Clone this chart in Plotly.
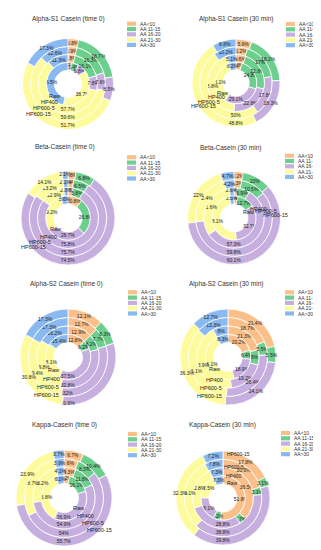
import plotly.graph_objects as go

W, H = 321, 550

categories = ["AA<10", "AA 11-15", "AA 16-20", "AA 21-30", "AA>30"]
ring_names = ["Raw", "HP400", "HP600-5", "HP600-15"]
titles = [
    "Alpha-S1 Casein (time 0)", "Alpha-S1 Casein (30 min)",
    "Beta-Casein (time 0)", "Beta-Casein (30 min)",
    "Alpha-S2 Casein (time 0)", "Alpha-S2 Casein (30 min)",
    "Kappa-Casein (time 0)", "Kappa-Casein (30 min)",
]

# values per ring, inner (Raw) -> outer (HP600-15); order = categories
alpha_s1_t0 = [[2.6, 5.4, 6.8, 38.7, 46.5],
               [3.8, 16.1, 7.8, 57.7, 11.3],
               [3.9, 16.3, 7.6, 59.6, 12.6],
               [3.8, 18.7, 8.5, 51.7, 17.3]]
alpha_s1_30 = [[4.8, 24.8, 29.1, 35.1, 6.2],
               [5.6, 22.8, 22.8, 43.8, 5.1],
               [5.2, 17, 17.8, 50, 10.2],
               [5.9, 18.2, 18.3, 48.8, 8.8]]
beta_t0 = [[10.8, 26.8, 28.7, 29.2, 5.6],
           [2.7, 5.8, 75.8, 12.9, 2.3],
           [2.4, 6.5, 75.7, 13.2, 2.1],
           [2.8, 6.8, 74.5, 14.1, 2.1]]
beta_30 = [[3, 12.7, 32.7, 48.1, 3.5],
           [1.6, 6.9, 57.3, 31.6, 2.6],
           [3.3, 10.5, 59.8, 22.4, 4.2],
           [3.2, 10, 60.1, 22, 4.7]]
alpha_s2_t0 = [[12.8, 6.2, 37.5, 28.1, 15.4],
               [12.9, 8.2, 32.8, 29.8, 16.2],
               [12.7, 7.7, 32, 29.4, 17.3],
               [12.1, 8.3, 31.6, 30.8, 17.3]]
alpha_s2_30 = [[20.2, 6.4, 18.9, 46.1, 8.3],
               [21.3, 8, 19.2, 43.9, 8],
               [18.7, 5.5, 26.4, 36.1, 13.3],
               [21.4, 5.5, 24.1, 36.3, 12.7]]
kappa_t0 = [[4.2, 16.1, 36.9, 36.8, 6.1],
            [6.3, 11.8, 54.9, 23.2, 4.1],
            [6, 8.3, 54, 28.7, 3.9],
            [6.7, 10.4, 55.7, 23.9, 3.7]]
kappa_30 = [[51.8, 5.2, 18.1, 17.5, 7.3],
            [36.5, 3.7, 28.8, 22.8, 7.3],
            [20.6, 3.1, 38.8, 30.1, 7.8],
            [17.8, 3.1, 39.8, 32.3, 7.2]]

panels = [alpha_s1_t0, alpha_s1_30, beta_t0, beta_30,
          alpha_s2_t0, alpha_s2_30, kappa_t0, kappa_30]

colors = ["#FBC08A", "#6DCF8E", "#C6AEDF", "#FDFB9C", "#8AB9F1"]

# layout (pixels)
centers = [(60, 76), (228, 75), (60, 210), (226, 210),
           (60, 349), (220, 349), (56, 490), (215, 490)]
radii = [45.5, 44, 47, 46.5, 48, 48, 48, 47]
bounds = [0.30, 0.475, 0.65, 0.825, 1.0]
# ring-name label offsets from each pie centre (Raw, HP400, HP600-5, HP600-15)
name_offsets = [
    [(-13, 12), (-18, 18), (-24, 24), (-30, 30)],
    [(-14, 10), (-20, 14), (-27, 19), (-33, 23)],
    [(-12, 11), (-20, 19), (-28, 24), (-35, 29)],
    [(14, -6), (24, -9), (32, -7), (41, -3)],
    [(-14, 13), (-16, 22), (-20, 30), (-22, 38)],
    [(-14, 12), (-14, 23), (-17, 31), (-19, 39)],
    [(14, 10), (21, 18), (29, 25), (36, 32)],
    [(2, -15), (1, -22), (-1, -31.5), (2, -44)],
]
name_anchor = ["center"] * 7 + ["left"]
title_pos = [(60, 11), (228, 11), (57, 139), (222, 140),
             (58, 276), (218, 276), (56, 417), (214, 417)]
legend_pos = [(119, 15.7), (278, 16), (119, 149.3), (277, 147.7),
              (120, 284.3), (277, 284.3), (120, 426), (273, 425)]
FONT = "Liberation Sans, Arial, sans-serif"

fig = go.Figure()
annotations = []
shapes = []

for s, rings in enumerate(panels):
    cx, cy = centers[s]
    R = radii[s]
    for k, vals in enumerate(rings):
        ro = R * bounds[k + 1]
        hole = bounds[k] / bounds[k + 1]
        fig.add_trace(go.Pie(
            labels=categories, values=vals, hole=hole, sort=False,
            direction="clockwise", rotation=0,
            domain=dict(x=[(cx - ro) / W, (cx + ro) / W],
                        y=[1 - (cy + ro) / H, 1 - (cy - ro) / H]),
            marker=dict(colors=colors, line=dict(color="white", width=0.8)),
            texttemplate="%{value}%", textposition="inside",
            insidetextorientation="horizontal",
            textfont=dict(size=5, color="#222", family=FONT),
            showlegend=False, name=ring_names[k],
        ))
        dx, dy = name_offsets[s][k]
        annotations.append(dict(x=(cx + dx) / W, y=1 - (cy + dy) / H,
                                xref="paper", yref="paper",
                                text=ring_names[k], showarrow=False,
                                font=dict(size=5.5 if s < 7 else 5, color="#222",
                                          family=FONT),
                                xanchor=name_anchor[s], yanchor="middle"))
    # title
    tx, ty = title_pos[s]
    annotations.append(dict(x=tx / W, y=1 - ty / H, xref="paper", yref="paper",
                            text=titles[s], showarrow=False,
                            font=dict(size=6.5, color="#333", family=FONT),
                            xanchor="center", yanchor="middle"))
    # legend
    lx, ly = legend_pos[s]
    for i, cat in enumerate(categories):
        yy = ly + i * 5.3
        shapes.append(dict(type="rect", xref="paper", yref="paper",
                           x0=lx / W, x1=(lx + 9) / W,
                           y0=1 - (yy + 2.1) / H, y1=1 - (yy - 2.1) / H,
                           fillcolor=colors[i], line=dict(width=0)))
        annotations.append(dict(x=(lx + 11) / W, y=1 - yy / H, xref="paper", yref="paper",
                                text=cat, showarrow=False,
                                font=dict(size=5, color="#333", family=FONT),
                                xanchor="left", yanchor="middle"))

fig.update_layout(
    width=W, height=H, margin=dict(l=0, r=0, t=0, b=0),
    paper_bgcolor="white", plot_bgcolor="white",
    annotations=annotations, shapes=shapes,
    uniformtext=dict(minsize=5, mode="show"),
    showlegend=False,
)

fig.write_html("out.html")
